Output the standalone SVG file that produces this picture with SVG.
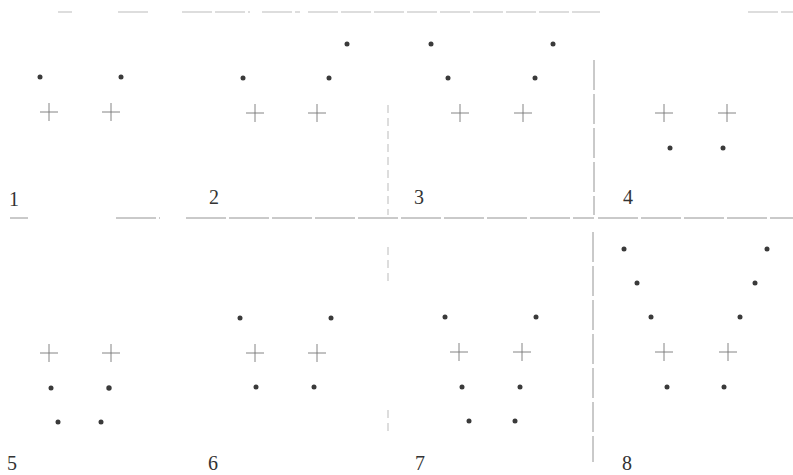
<svg xmlns="http://www.w3.org/2000/svg" width="793" height="475" viewBox="0 0 793 475">
<style>
.d{fill:#3a3a3a}
.c{stroke:#777;stroke-width:0.9;fill:none}
.l{stroke:#888;stroke-width:0.9;fill:none}
.f{stroke:#aaa;stroke-width:0.8;fill:none}
.t{font-family:"Liberation Serif",serif;font-size:20px;fill:#333}
</style>
<defs>
<path id="x" d="M-9,0H9M0,-9V9" class="c"/>
</defs>
<rect width="793" height="475" fill="#fff"/>
<g id="rules">
<path class="f" d="M58,12H72 M118,12H148 M182,12H250 M262,12H300 M308,12H600 M748,12H793" stroke-dasharray="30 3"/>
<path class="l" d="M10,218H28 M116,218H160 M186,218H594 M598,218H793" stroke-dasharray="40 3"/>
<path class="l" d="M594,60V215 M593,232V462" stroke-dasharray="30 4"/>
<path class="f" d="M388,105V215 M388,247V285 M388,410V433" stroke-dasharray="8 5"/>
</g>
<g id="p1">
<circle class="d" cx="40" cy="77" r="2.5"/><circle class="d" cx="121" cy="77" r="2.5"/>
<use href="#x" x="49" y="112"/><use href="#x" x="111" y="112"/>
<text class="t" x="9" y="206">1</text>
</g>
<g id="p2">
<circle class="d" cx="243" cy="78" r="2.5"/><circle class="d" cx="329" cy="78" r="2.5"/><circle class="d" cx="347" cy="44" r="2.5"/>
<use href="#x" x="255" y="113"/><use href="#x" x="317" y="113"/>
<text class="t" x="209" y="204">2</text>
</g>
<g id="p3">
<circle class="d" cx="431" cy="44" r="2.5"/><circle class="d" cx="553" cy="44" r="2.5"/>
<circle class="d" cx="448" cy="78" r="2.5"/><circle class="d" cx="535" cy="78" r="2.5"/>
<use href="#x" x="460" y="113"/><use href="#x" x="523" y="113"/>
<text class="t" x="414" y="204">3</text>
</g>
<g id="p4">
<use href="#x" x="664" y="113"/><use href="#x" x="727" y="113"/>
<circle class="d" cx="670" cy="148" r="2.5"/><circle class="d" cx="723" cy="148" r="2.5"/>
<text class="t" x="623" y="204">4</text>
</g>
<g id="p5">
<use href="#x" x="49" y="353"/><use href="#x" x="111" y="353"/>
<circle class="d" cx="51" cy="388" r="2.5"/><circle class="d" cx="109" cy="388" r="2.7"/>
<circle class="d" cx="58" cy="422" r="2.5"/><circle class="d" cx="101" cy="422" r="2.5"/>
<text class="t" x="7" y="470">5</text>
</g>
<g id="p6">
<circle class="d" cx="240" cy="318" r="2.5"/><circle class="d" cx="331" cy="318" r="2.5"/>
<use href="#x" x="255" y="353"/><use href="#x" x="317" y="353"/>
<circle class="d" cx="256" cy="387" r="2.5"/><circle class="d" cx="314" cy="387" r="2.5"/>
<text class="t" x="208" y="470">6</text>
</g>
<g id="p7">
<circle class="d" cx="445" cy="317" r="2.5"/><circle class="d" cx="536" cy="317" r="2.5"/>
<use href="#x" x="459" y="352"/><use href="#x" x="522" y="352"/>
<circle class="d" cx="462" cy="387" r="2.5"/><circle class="d" cx="520" cy="387" r="2.5"/>
<circle class="d" cx="469" cy="421" r="2.5"/><circle class="d" cx="515" cy="421" r="2.5"/>
<text class="t" x="415" y="470">7</text>
</g>
<g id="p8">
<circle class="d" cx="624" cy="249" r="2.5"/><circle class="d" cx="767" cy="249" r="2.5"/>
<circle class="d" cx="637" cy="283" r="2.5"/><circle class="d" cx="755" cy="283" r="2.5"/>
<circle class="d" cx="651" cy="317" r="2.5"/><circle class="d" cx="740" cy="317" r="2.5"/>
<use href="#x" x="664" y="352"/><use href="#x" x="728" y="352"/>
<circle class="d" cx="667" cy="387" r="2.5"/><circle class="d" cx="724" cy="387" r="2.5"/>
<text class="t" x="622" y="470">8</text>
</g>
</svg>
